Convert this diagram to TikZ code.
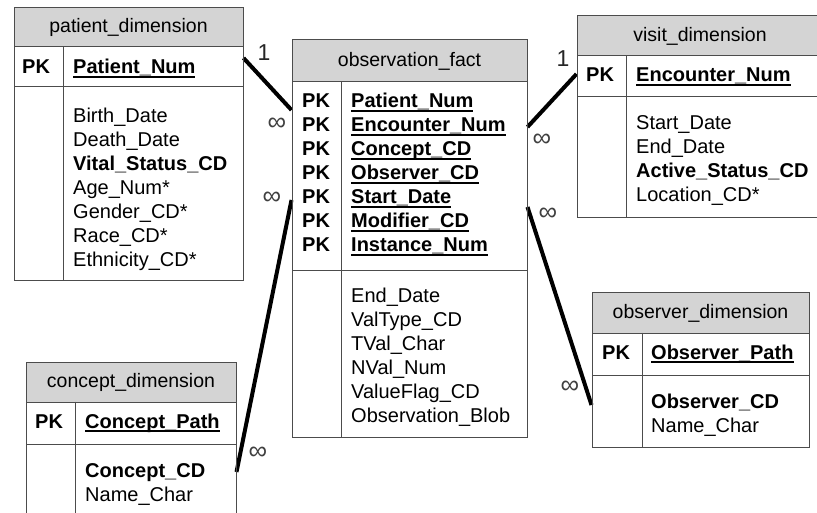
\documentclass[tikz,border=0pt]{standalone}
\usepackage{fontspec}
\setmainfont{Liberation Sans}
\newcommand{\keyfield}[1]{\setbox0\hbox{\textbf{#1}}\rlap{\rule[-4pt]{\wd0}{2pt}}\box0}

\begin{document}
\begin{tikzpicture}[x=1pt,y=-1pt]
\tikzstyle{box} = [draw=black!70,line width=1pt,rectangle,inner sep=0pt]
\tikzstyle{hdr} = [box,fill=black!17,font=\fontsize{19.5}{24}\selectfont]
\tikzstyle{txt} = [anchor=base west,inner sep=0pt,font=\fontsize{20}{24}\selectfont]
\tikzstyle{card} = [inner sep=0pt,text=black!75,font=\fontsize{26}{24}\selectfont]
\tikzstyle{rel} = [line width=4pt]
\useasboundingbox (0,0) rectangle (817,513);

% relations
\node[box,minimum width=229,minimum height=40] (pat-k) at (128.5,67) {};
\node[box,minimum width=235,minimum height=189] (obs-k) at (409.5,176.5) {};
\node[box,minimum width=246,minimum height=41] (vis-k) at (700,76.5) {};
\node[box,minimum width=210,minimum height=86] (con-a) at (131,487) {};
\node[box,minimum width=217,minimum height=72] (obv-a) at (700.5,411) {};
\draw[rel] ([yshift=9pt]pat-k.east) -- ([yshift=66.5pt]obs-k.west);
\draw[rel] ([yshift=15pt]con-a.east) -- ([yshift=-23.5pt]obs-k.west);
\draw[rel] ([yshift=49.5pt]obs-k.east) -- ([yshift=2.5pt]vis-k.west);
\draw[rel] ([yshift=-30.5pt]obs-k.east) -- ([yshift=6pt]obv-a.west);
\node[card,text=black!85,font=\fontsize{23}{24}\selectfont] (c1) at (264,53) {1};
\node[card,text=black!85,font=\fontsize{23}{24}\selectfont] (c2) at (563,59) {1};
\node[card] (c3) at (277,124) {∞};
\node[card] (c4) at (272,198) {∞};
\node[card] (c5) at (258,453) {∞};
\node[card] (c6) at (542,140) {∞};
\node[card] (c7) at (548,214) {∞};
\node[card] (c8) at (570,387) {∞};

% patient_dimension
\node[hdr,minimum width=229,minimum height=39] (pat-h) at (128.5,27.5) {patient\_dimension};
\node[box,minimum width=229,minimum height=40] at (pat-k) {};
\node[box,minimum width=229,minimum height=194] (pat-a) at (128.5,184) {};
\draw[box] ([xshift=50pt]pat-k.north west) -- ([xshift=50pt]pat-a.south west);
\node[txt] (pat-pk) at (22,74) {\textbf{PK}};
\node[txt] (pat-k1) at (73,74) {\keyfield{Patient\_Num}};
\foreach \t [count=\i] in {Birth\_Date,Death\_Date,\textbf{Vital\_Status\_CD},Age\_Num*,
  Gender\_CD*,Race\_CD*,Ethnicity\_CD*}
  \node[txt] (pat-f\i) at (73,99+24*\i) {\t};

% observation_fact
\node[hdr,minimum width=235,minimum height=42] (obs-h) at (409.5,61) {observation\_fact};
\node[box,minimum width=235,minimum height=189] at (obs-k) {};
\node[box,minimum width=235,minimum height=166] (obs-a) at (409.5,354) {};
\draw[box] ([xshift=50pt]obs-k.north west) -- ([xshift=50pt]obs-a.south west);
\foreach \t [count=\i] in {Patient\_Num,Encounter\_Num,Concept\_CD,Observer\_CD,
  Start\_Date,Modifier\_CD,Instance\_Num} {
  \node[txt] (obs-pk\i) at (302,84+24*\i) {\textbf{PK}};
  \node[txt] (obs-k\i) at (351,84+24*\i) {\keyfield{\t}};
}
\foreach \t [count=\i] in {End\_Date,ValType\_CD,TVal\_Char,NVal\_Num,
  ValueFlag\_CD,Observation\_Blob}
  \node[txt] (obs-f\i) at (351,278+24*\i) {\t};

% visit_dimension
\node[hdr,minimum width=246,minimum height=40] (vis-h) at (700,36) {visit\_dimension};
\node[box,minimum width=246,minimum height=41] at (vis-k) {};
\node[box,minimum width=246,minimum height=121] (vis-a) at (700,157.5) {};
\draw[box] ([xshift=50pt]vis-k.north west) -- ([xshift=50pt]vis-a.south west);
\node[txt] (vis-pk) at (586,82) {\textbf{PK}};
\node[txt] (vis-k1) at (636,82) {\keyfield{Encounter\_Num}};
\foreach \t [count=\i] in {Start\_Date,End\_Date,\textbf{Active\_Status\_CD},Location\_CD*}
  \node[txt] (vis-f\i) at (636,106+24*\i) {\t};

% concept_dimension
\node[hdr,minimum width=210,minimum height=40] (con-h) at (131,382) {concept\_dimension};
\node[box,minimum width=210,minimum height=42] (con-k) at (131,423) {};
\node[box,minimum width=210,minimum height=86] at (con-a) {};
\draw[box] ([xshift=50pt]con-k.north west) -- ([xshift=50pt]con-a.south west);
\node[txt] (con-pk) at (35,428) {\textbf{PK}};
\node[txt] (con-k1) at (85,428) {\keyfield{Concept\_Path}};
\foreach \t [count=\i] in {\textbf{Concept\_CD},Name\_Char}
  \node[txt] (con-f\i) at (85,453+24*\i) {\t};

% observer_dimension
\node[hdr,minimum width=217,minimum height=40] (obv-h) at (700.5,313) {observer\_dimension};
\node[box,minimum width=217,minimum height=42] (obv-k) at (700.5,354) {};
\node[box,minimum width=217,minimum height=72] at (obv-a) {};
\draw[box] ([xshift=51pt]obv-k.north west) -- ([xshift=51pt]obv-a.south west);
\node[txt] (obv-pk) at (602,359) {\textbf{PK}};
\node[txt] (obv-k1) at (651,359) {\keyfield{Observer\_Path}};
\foreach \t [count=\i] in {\textbf{Observer\_CD},Name\_Char}
  \node[txt] (obv-f\i) at (651,384+24*\i) {\t};
\end{tikzpicture}
\end{document}
